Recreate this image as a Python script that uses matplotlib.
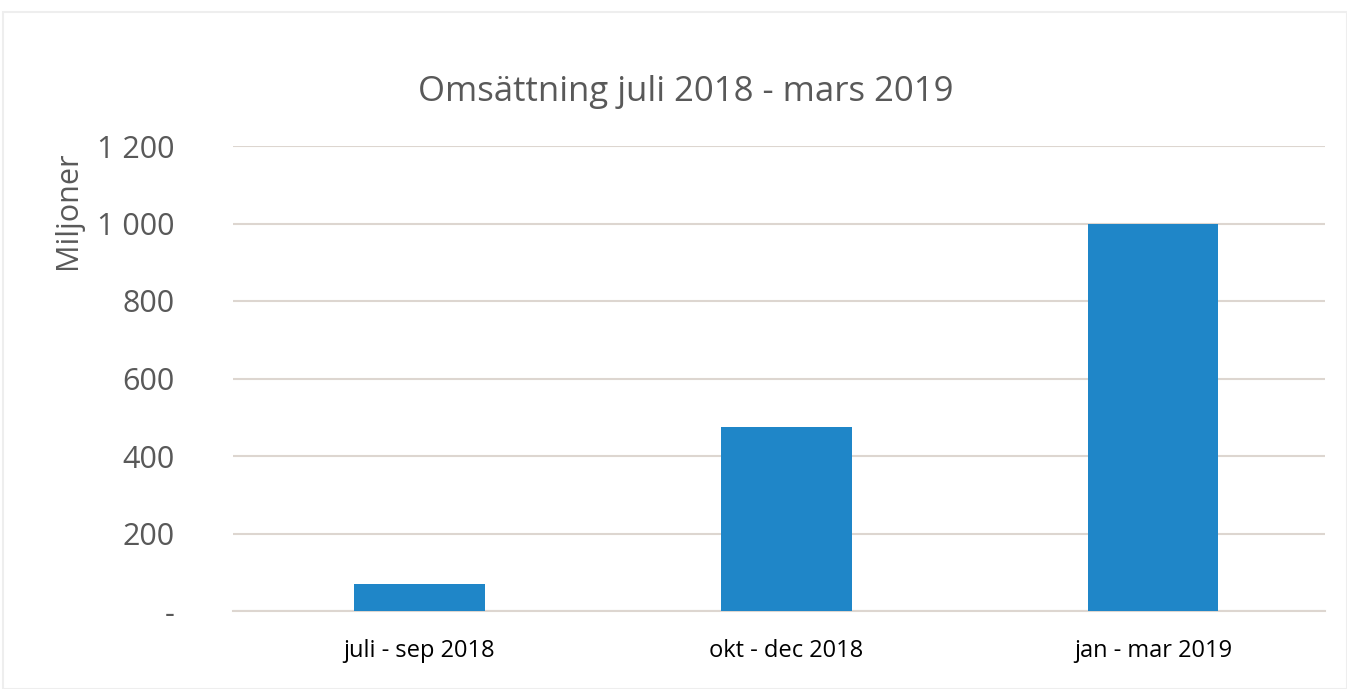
import matplotlib.pyplot as plt
from matplotlib.patches import Rectangle

plt.rcParams['font.family'] = ['Open Sans', 'DejaVu Sans']

categories = ['juli - sep 2018', 'okt - dec 2018', 'jan - mar 2019']
values = [70, 474, 998]
yticks = [0, 200, 400, 600, 800, 1000, 1200]
ytick_labels = ['-', '200', '400', '600', '800', '1 000', '1 200']

fig = plt.figure(figsize=(13.47, 6.89), dpi=100)
ax = fig.add_axes([233 / 1347, 1 - 611 / 689, 1092 / 1347, 465 / 689])

x = range(len(categories))
ax.bar(x, values, width=0.357, color='#1f86c8', zorder=3)
ax.set_xlim(-0.5085, 2.469)
ax.set_ylim(0, 1200)
ax.set_yticks(yticks)
ax.set_yticklabels(ytick_labels, fontsize=22, color='#595959')
ax.set_xticks(list(x))
ax.set_xticklabels(categories, fontsize=17, color='black')
ax.tick_params(axis='both', length=0)
ax.tick_params(axis='y', pad=42)
ax.tick_params(axis='x', pad=20)

ax.grid(axis='y', color='#ddd6d0', linewidth=1.5, zorder=0)
for s in ['top', 'right', 'left']:
    ax.spines[s].set_visible(False)
ax.spines['bottom'].set_color('#ddd6d0')
ax.spines['bottom'].set_linewidth(1.5)

ax.set_ylabel('Miljoner', fontsize=22, color='#595959')
ax.yaxis.set_label_coords(-0.151, 0.862)
ax.yaxis.label.set_va('center')
fig.text(686 / 1347, 1 - 92 / 689, 'Omsättning juli 2018 - mars 2019', fontsize=25,
         color='#595959', ha='center', va='center')

fig.patches.append(Rectangle((3 / 1347, 0), 1 - 3 / 1347, 1 - 12 / 689, transform=fig.transFigure,
                             fill=False, edgecolor='#eeeeee', linewidth=1.5))

fig.savefig('out.png', dpi=100)
